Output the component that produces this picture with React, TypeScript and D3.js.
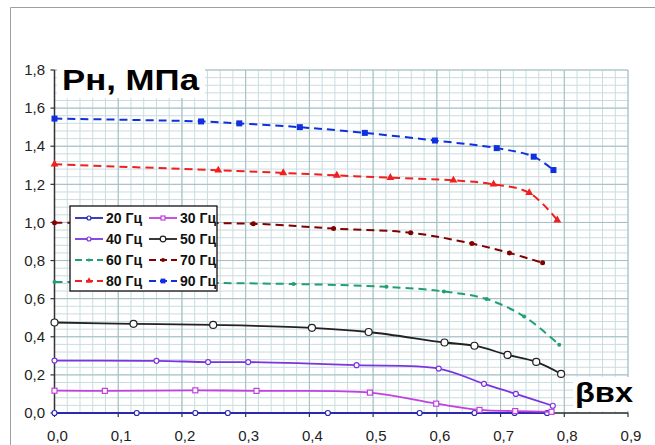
import React from 'react';
import * as d3 from 'd3';

// values (x = βвх, y = Рн, МПа)
const s20: [number, number][] = [[0, 0], [0.129, 0], [0.221, 0], [0.272, 0], [0.429, 0], [0.573, 0], [0.659, 0], [0.722, 0], [0.773, 0]];
const s30: [number, number][] = [[0, 0.117], [0.079, 0.116], [0.221, 0.119], [0.317, 0.116], [0.495, 0.107], [0.599, 0.049], [0.667, 0.016], [0.723, 0.01], [0.78, 0.006]];
const s40: [number, number][] = [[0, 0.275], [0.16, 0.274], [0.241, 0.267], [0.304, 0.267], [0.474, 0.251], [0.603, 0.233], [0.674, 0.153], [0.724, 0.1], [0.782, 0.038]];
const s50: [number, number][] = [[0, 0.475], [0.124, 0.468], [0.249, 0.462], [0.404, 0.447], [0.493, 0.425], [0.612, 0.37], [0.659, 0.353], [0.711, 0.305], [0.756, 0.268], [0.795, 0.205]];
const s60: [number, number][] = [[0, 0.688], [0.375, 0.677], [0.521, 0.662], [0.611, 0.638], [0.678, 0.598], [0.737, 0.507], [0.792, 0.358]];
const s70: [number, number][] = [[0, 0.998], [0.312, 0.993], [0.438, 0.968], [0.559, 0.946], [0.655, 0.889], [0.714, 0.84], [0.766, 0.788]];
const s80: [number, number][] = [[0, 1.305], [0.257, 1.274], [0.359, 1.26], [0.443, 1.247], [0.527, 1.235], [0.626, 1.221], [0.689, 1.2], [0.745, 1.156], [0.789, 1.012]];
const s90: [number, number][] = [[0, 1.545], [0.23, 1.53], [0.29, 1.52], [0.385, 1.5], [0.487, 1.47], [0.597, 1.43], [0.694, 1.39], [0.752, 1.345], [0.783, 1.275]];

const labels = ['20 Гц', '30 Гц', '40 Гц', '50 Гц', '60 Гц', '70 Гц', '80 Гц', '90 Гц'];
const xTicks = [0, 0.1, 0.2, 0.3, 0.4, 0.5, 0.6, 0.7, 0.8, 0.9];
const yTicks = [0, 0.2, 0.4, 0.6, 0.8, 1.0, 1.2, 1.4, 1.6, 1.8];

type Marker = 'circle' | 'square' | 'dot' | 'triangle' | 'fsquare';
interface Series { name: string; data: [number, number][]; color: string; dashed: boolean; marker: Marker; r: number }

const series: Series[] = [
  { name: labels[0], data: s20, color: '#2a2ab0', dashed: false, marker: 'circle', r: 2.5 },
  { name: labels[1], data: s30, color: '#c040e0', dashed: false, marker: 'square', r: 2.5 },
  { name: labels[2], data: s40, color: '#7a35e0', dashed: false, marker: 'circle', r: 2.5 },
  { name: labels[3], data: s50, color: '#222222', dashed: false, marker: 'circle', r: 3.5 },
  { name: labels[4], data: s60, color: '#20a070', dashed: true, marker: 'dot', r: 2 },
  { name: labels[5], data: s70, color: '#800000', dashed: true, marker: 'dot', r: 2.5 },
  { name: labels[6], data: s80, color: '#f02020', dashed: true, marker: 'triangle', r: 2.6 },
  { name: labels[7], data: s90, color: '#1030e0', dashed: true, marker: 'fsquare', r: 3 },
];

const W = 655;
const H = 445;
const x = d3.scaleLinear().domain([0, 0.9]).range([54.5, 628]);
const y = d3.scaleLinear().domain([0, 1.8]).range([413, 70]);
const font = 'Arial, "Liberation Sans", sans-serif';

function MarkerShape({ kind, cx, cy, r, color }: { kind: Marker; cx: number; cy: number; r: number; color: string }) {
  if (kind === 'circle') return <circle cx={cx} cy={cy} r={r} fill="#fff" stroke={color} strokeWidth={1.2} />;
  if (kind === 'square') return <rect x={cx - r} y={cy - r} width={2 * r} height={2 * r} fill="#fff" stroke={color} strokeWidth={1.2} />;
  if (kind === 'fsquare') return <rect x={cx - r} y={cy - r} width={2 * r} height={2 * r} fill={color} />;
  if (kind === 'triangle') {
    const tri = d3.symbol(d3.symbolTriangle, r * r * 4)();
    return <path d={tri ?? ''} transform={`translate(${cx},${cy})`} fill={color} />;
  }
  return <circle cx={cx} cy={cy} r={r} fill={color} />;
}

export default function App() {
  const line = d3.line<[number, number]>()
    .x(d => x(d[0]))
    .y(d => y(d[1]))
    .curve(d3.curveCatmullRom.alpha(0.5));

  const minorX = d3.range(0, 0.9001, 0.02);
  const minorY = d3.range(0, 1.8001, 0.04);

  const legX = 70;
  const legY = 206;
  const rowH = 21;
  const colW = 74;

  return (
    <svg width={W} height={H} style={{ position: 'absolute', left: 0, top: 0, background: '#fff' }} fontFamily={font}>
      {/* outer frame, left and top only */}
      <path d={`M10.5,${H} V7.5 H${W}`} fill="none" stroke="#a0a0a0" strokeWidth={1} />

      {/* grid */}
      <g>
        {minorX.map((v, i) => (
          <line key={`mx${i}`} x1={x(v)} x2={x(v)} y1={y(1.8)} y2={y(0)} stroke="#c9dcdf" strokeWidth={1} />
        ))}
        {minorY.map((v, i) => (
          <line key={`my${i}`} x1={x(0)} x2={x(0.9)} y1={y(v)} y2={y(v)} stroke="#c9dcdf" strokeWidth={1} />
        ))}
        {xTicks.map((v, i) => (
          <line key={`Mx${i}`} x1={x(v)} x2={x(v)} y1={y(1.8)} y2={y(0)} stroke="#a3bec3" strokeWidth={1} />
        ))}
        {yTicks.map((v, i) => (
          <line key={`My${i}`} x1={x(0)} x2={x(0.9)} y1={y(v)} y2={y(v)} stroke="#a3bec3" strokeWidth={1} />
        ))}
      </g>

      {/* axes */}
      <line x1={x(0)} x2={x(0)} y1={y(1.8)} y2={y(0)} stroke="#333" strokeWidth={1.5} />
      <line x1={x(0)} x2={x(0.9)} y1={y(0)} y2={y(0)} stroke="#333" strokeWidth={1.5} />
      {yTicks.map((v, i) => (
        <g key={`yt${i}`}>
          <line x1={x(0) - 4} x2={x(0)} y1={y(v)} y2={y(v)} stroke="#333" strokeWidth={1.2} />
          <text x={45} y={y(v)} dy="0.35em" textAnchor="end" fontSize={15} fill="#222">
            {d3.format('.1f')(v).replace('.', ',')}
          </text>
        </g>
      ))}
      {xTicks.map((v, i) => (
        <g key={`xt${i}`}>
          <line x1={x(v)} x2={x(v)} y1={y(0)} y2={y(0) + 4} stroke="#333" strokeWidth={1.2} />
          <text x={x(v) + 3} y={441} textAnchor="middle" fontSize={15} fill="#222">
            {d3.format('.1f')(v).replace('.', ',')}
          </text>
        </g>
      ))}

      {/* series */}
      {series.map(s => (
        <g key={s.name}>
          <path d={line(s.data) ?? ''} fill="none" stroke={s.color} strokeWidth={s.dashed ? 2 : 1.8}
            strokeDasharray={s.dashed ? '8,5' : undefined} />
          {s.data.map((d, i) => (
            <MarkerShape key={i} kind={s.marker} cx={x(d[0])} cy={y(d[1])} r={s.r} color={s.color} />
          ))}
        </g>
      ))}

      {/* title */}
      <rect x={57} y={50} width={148} height={48} fill="#fff" />
      <text x={62} y={90} fontSize={30} fontWeight="bold" fill="#000" textLength={137} lengthAdjust="spacingAndGlyphs">
        Рн, МПа
      </text>
      <rect x={573} y={377} width={67} height={34} fill="#fff" />
      <text x={575} y={402} fontSize={28} fontWeight="bold" fill="#000" textLength={58} lengthAdjust="spacingAndGlyphs">
        βвх
      </text>

      {/* legend */}
      <rect x={legX} y={legY} width={147} height={85} fill="#fff" stroke="#111" strokeWidth={1.3} />
      {series.map((s, i) => {
        const col = i % 2;
        const row = Math.floor(i / 2);
        const lx = legX + 5 + col * colW;
        const ly = legY + 12 + row * rowH;
        return (
          <g key={`lg${i}`}>
            <line x1={lx} x2={lx + 28} y1={ly} y2={ly} stroke={s.color} strokeWidth={1.8}
              strokeDasharray={s.dashed ? '7,4' : undefined} />
            <MarkerShape kind={s.marker} cx={lx + 14} cy={ly} r={s.r * 0.8} color={s.color} />
            <text x={lx + 31} y={ly} dy="0.36em" fontSize={14} fontWeight="bold" fill="#111">{s.name}</text>
          </g>
        );
      })}
    </svg>
  );
}
